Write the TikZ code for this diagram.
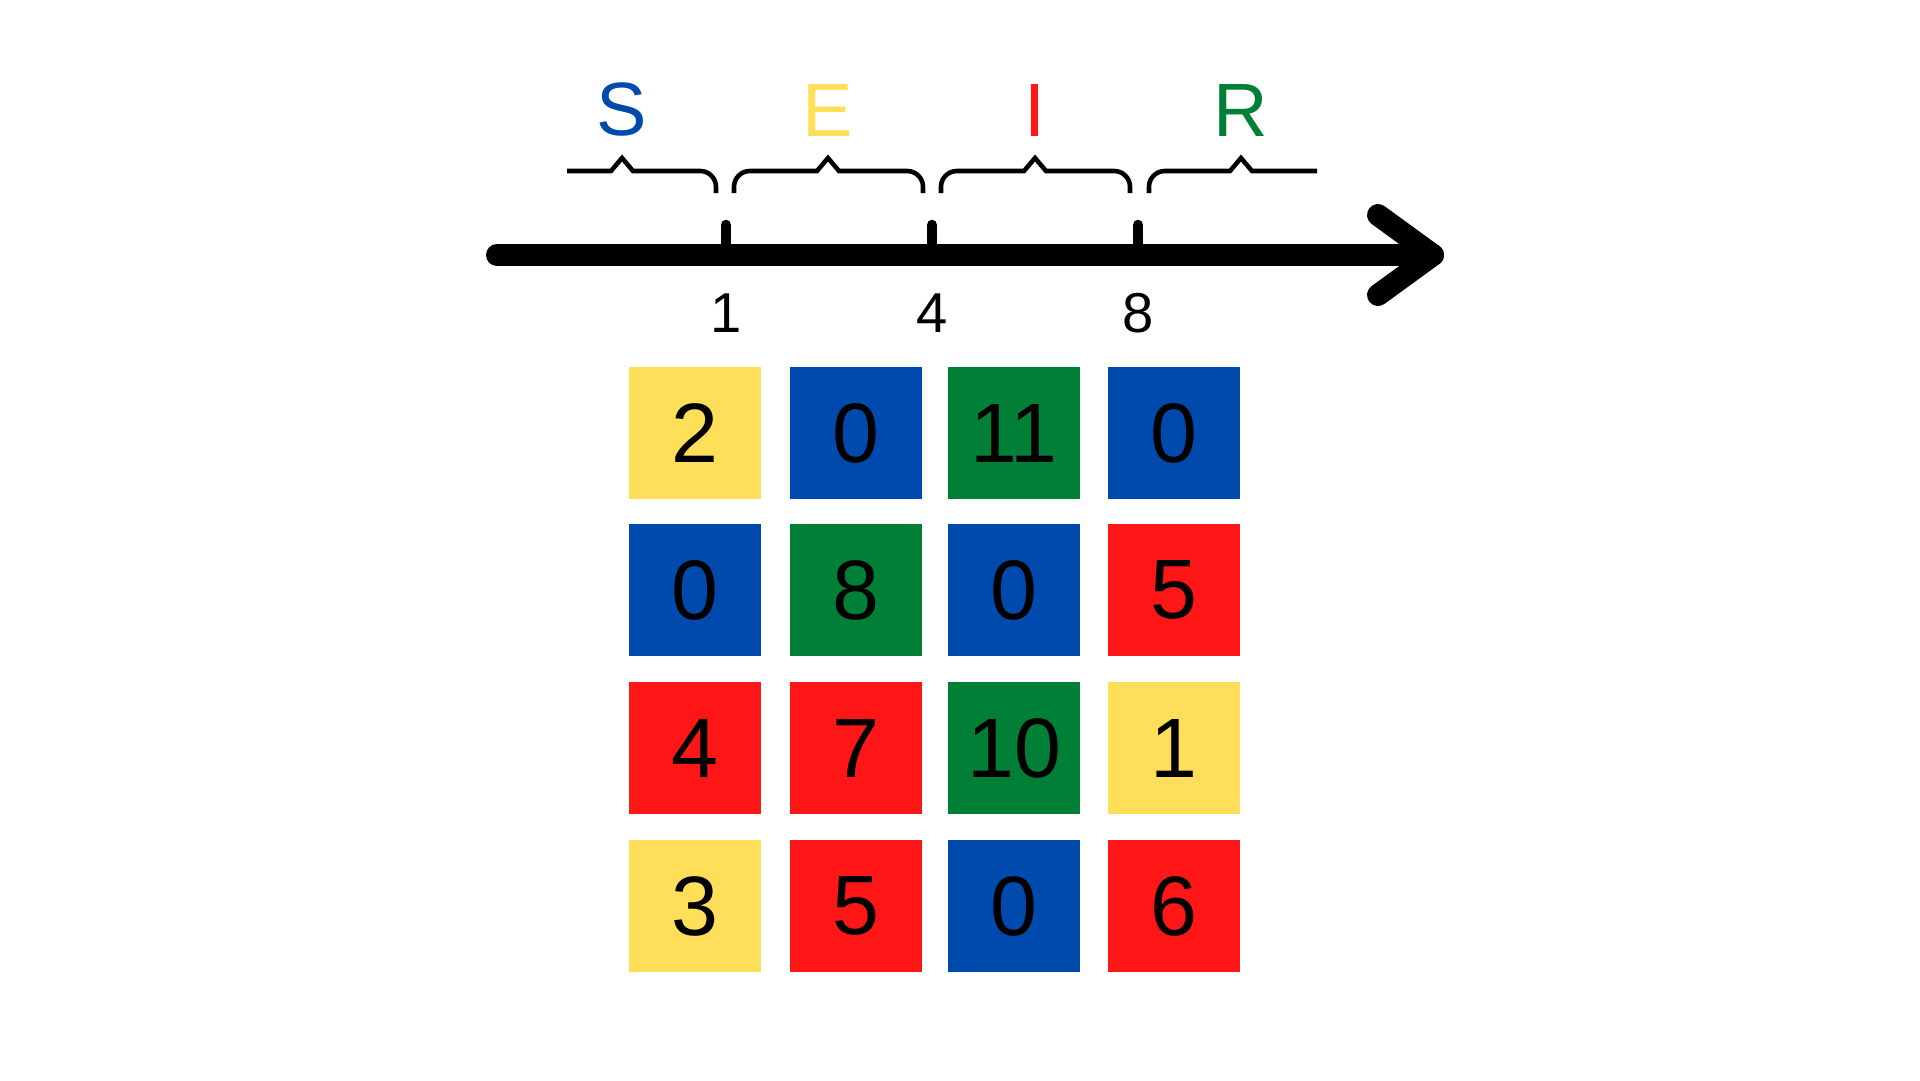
\documentclass[tikz,border=0pt]{standalone}
\usepackage{fontspec}
\setmainfont{Liberation Sans}
\usetikzlibrary{positioning}

\definecolor{seirblue}{HTML}{004AAD}
\definecolor{seiryellow}{HTML}{FFDE59}
\definecolor{seirred}{HTML}{FF1616}
\definecolor{seirgreen}{HTML}{008037}

\tikzset{
    axisline/.style={line width=12.5pt, line cap=round, line join=round},
    tickline/.style={line width=6pt, line cap=round},
    braceline/.style={line width=2.6pt},
    stateletter/.style={inner sep=0pt, font=\fontsize{43}{50}\selectfont},
    ticklabel/.style={inner sep=0pt, font=\fontsize{32}{38}\selectfont},
    cell/.style={minimum size=2.64cm, inner sep=0pt, font=\fontsize{48}{56}\selectfont},
    ycell/.style={cell, fill=seiryellow},
    bcell/.style={cell, fill=seirblue},
    rcell/.style={cell, fill=seirred},
    gcell/.style={cell, fill=seirgreen}
}

\begin{document}
\begin{tikzpicture}[x=0.02cm, y=-0.02cm]
        \useasboundingbox (0,0) rectangle (1920,1080);

        % time axis
        \coordinate (T0) at (497,255);
        \coordinate (T1) at (1433,255);
        \coordinate (H1) at (1378,215);
        \coordinate (H2) at (1378,295);
        \draw[axisline] (T0) -- (T1);
        \draw[axisline] (H1) -- (T1) -- (H2);

        % ticks
        \coordinate (K1) at (726,255);
        \coordinate (K4) at (932,255);
        \coordinate (K8) at (1138,255);
        \draw[tickline] (K1) -- ++(0,-30);
        \draw[tickline] (K4) -- ++(0,-30);
        \draw[tickline] (K8) -- ++(0,-30);
        \node[ticklabel] (L1) at (726,313) {1};
        \node[ticklabel] (L4) at (932,313) {4};
        \node[ticklabel] (L8) at (1138,313) {8};

        % braces
        \coordinate (pS) at (622,158);
        \coordinate (pE) at (828,158);
        \coordinate (pI) at (1035,158);
        \coordinate (pR) at (1241,158);
        \draw[braceline] (567,171) -- (611,171) -- (pS) -- (633,171) -- (670,171)
                         [rounded corners=9pt] -| (716,193);
        \draw[braceline] (734,193) [rounded corners=9pt] |- (770,171)
                         [sharp corners] -- (817,171) -- (pE) -- (839,171) -- (880,171)
                         [rounded corners=9pt] -| (923,193);
        \draw[braceline] (941,193) [rounded corners=9pt] |- (980,171)
                         [sharp corners] -- (1024,171) -- (pI) -- (1046,171) -- (1090,171)
                         [rounded corners=9pt] -| (1130,193);
        \draw[braceline] (1149,193) [rounded corners=9pt] |- (1190,171)
                         [sharp corners] -- (1230,171) -- (pR) -- (1252,171) -- (1317,171);

        \node[stateletter, text=seirblue, above=0.42cm of pS] (S) {S};
        \node[stateletter, text=seiryellow, above=0.42cm of pE] (E) {E};
        \node[stateletter, text=seirred, above=0.42cm of pI] (I) {I};
        \node[stateletter, text=seirgreen, above=0.42cm of pR] (R) {R};

        % grid
        \node[ycell] (c11) at (695,433) {2};
        \node[bcell] (c12) at (856,433) {0};
        \node[gcell] (c13) at (1014,433) {11};
        \node[bcell] (c14) at (1174,433) {0};

        \node[bcell] (c21) at (695,590) {0};
        \node[gcell] (c22) at (856,590) {8};
        \node[bcell] (c23) at (1014,590) {0};
        \node[rcell] (c24) at (1174,590) {5};

        \node[rcell] (c31) at (695,748) {4};
        \node[rcell] (c32) at (856,748) {7};
        \node[gcell] (c33) at (1014,748) {10};
        \node[ycell] (c34) at (1174,748) {1};

        \node[ycell] (c41) at (695,906) {3};
        \node[rcell] (c42) at (856,906) {5};
        \node[bcell] (c43) at (1014,906) {0};
        \node[rcell] (c44) at (1174,906) {6};

    \end{tikzpicture}
\end{document}
